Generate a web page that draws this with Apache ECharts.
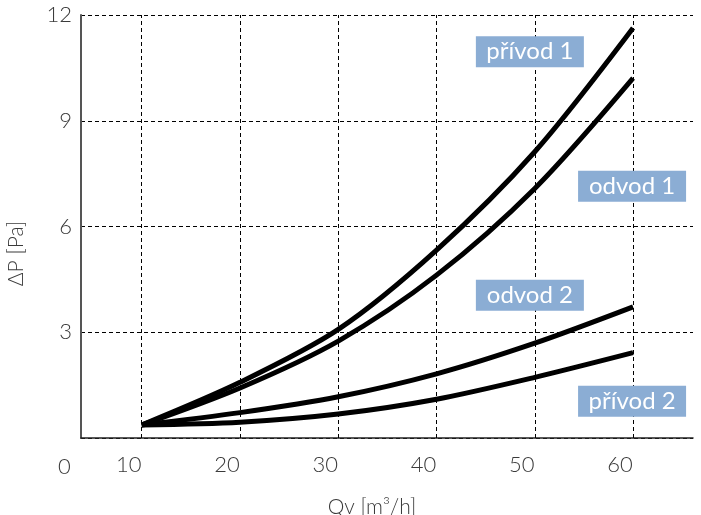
<!DOCTYPE html>
<html>
<head>
<meta charset="utf-8">
<script src="https://cdn.jsdelivr.net/npm/echarts@6/dist/echarts.min.js"></script>
<style>
  html, body { margin: 0; padding: 0; background: #fff; }
  #main { width: 701px; height: 515px; }
</style>
</head>
<body>
<div id="main"></div>
<script>
// hodnoty
const xTicks = [10, 20, 30, 40, 50, 60];
const yTicks = [0, 3, 6, 9, 12];
const privod1 = [0.37, 1.58, 3.08, 5.33, 8.12, 11.63];
const odvod1 = [0.37, 1.42, 2.75, 4.62, 7.08, 10.21];
const odvod2 = [0.37, 0.72, 1.17, 1.82, 2.69, 3.72];
const privod2 = [0.37, 0.45, 0.68, 1.10, 1.72, 2.42];
const seriesNames = ['přívod 1', 'odvod 1', 'odvod 2', 'přívod 2'];
const labelAt = [[49.5, 10.96], [59.9, 7.14], [49.5, 4.05], [59.9, 1.04]];

const font = 'Lato';
const textColor = '#3a3a3a';

function pairs(vals) {
  return vals.map((v, i) => [xTicks[i], v]);
}

function tag(i) {
  return {
    silent: true,
    symbol: 'rect',
    symbolSize: 1,
    itemStyle: { color: 'rgba(0,0,0,0)' },
    label: {
      show: true,
      position: 'inside',
      formatter: seriesNames[i],
      backgroundColor: '#8badd4',
      color: '#fff',
      fontFamily: font,
      fontSize: 24,
      width: 88,
      height: 23,
      lineHeight: 23,
      align: 'center',
      padding: [4, 10]
    },
    data: [{ coord: labelAt[i] }]
  };
}

const lines = [privod1, odvod1, odvod2, privod2].map((vals, i) => ({
  name: seriesNames[i],
  type: 'line',
  data: pairs(vals),
  smooth: 0.3,
  symbol: 'none',
  lineStyle: { color: '#000', width: 5 },
  z: 3,
  markPoint: tag(i)
}));

// svislé mřížky přes markLine
lines[0].markLine = {
  silent: true,
  symbol: 'none',
  label: { show: false },
  lineStyle: { color: '#000', type: [4, 3], width: 1 },
  data: xTicks.map(v => ({ xAxis: v }))
};

let myChart = echarts.init(document.getElementById('main'));
myChart.setOption({
  animation: false,
  grid: { left: 81, right: 8, top: 15, bottom: 77, outerBoundsMode: 'none' },
  xAxis: {
    type: 'value',
    min: 3.82,
    max: 66.1,
    name: 'Qv [m³/h]',
    nameLocation: 'middle',
    nameGap: 59,
    nameTextStyle: { fontFamily: font, fontWeight: 300, fontSize: 21, color: textColor, padding: [0, 30, 0, 0] },
    axisLine: { lineStyle: { color: '#222', width: 1.5 } },
    axisTick: { show: false },
    splitLine: { show: false },
    axisLabel: {
      customValues: xTicks,
      margin: 16,
      fontFamily: font,
      fontWeight: 300,
      fontSize: 22,
      color: textColor,
      padding: [0, 26, 0, 0]
    }
  },
  yAxis: {
    type: 'value',
    min: 0,
    max: 12,
    interval: 3,
    name: 'ΔP [Pa]',
    nameLocation: 'middle',
    nameGap: 54,
    nameTextStyle: { fontFamily: font, fontWeight: 300, fontSize: 21, color: textColor, padding: [0, 54, 0, 0] },
    axisLine: { show: true, lineStyle: { color: '#555', width: 2 } },
    axisTick: { show: false },
    splitLine: { lineStyle: { color: '#000', type: [4, 3], width: 1 } },
    axisLabel: {
      margin: 9,
      fontFamily: font,
      fontWeight: 300,
      fontSize: 22,
      color: textColor,
      formatter: v => (v === 0 ? '' : String(v))
    }
  },
  graphic: [{
    type: 'text',
    left: 58,
    top: 456,
    style: { text: '0', fontFamily: font, fontWeight: 300, fontSize: 22, fill: textColor }
  }],
  series: lines
});
window.onresize = function () {
  myChart.resize();
};
</script>
</body>
</html>
